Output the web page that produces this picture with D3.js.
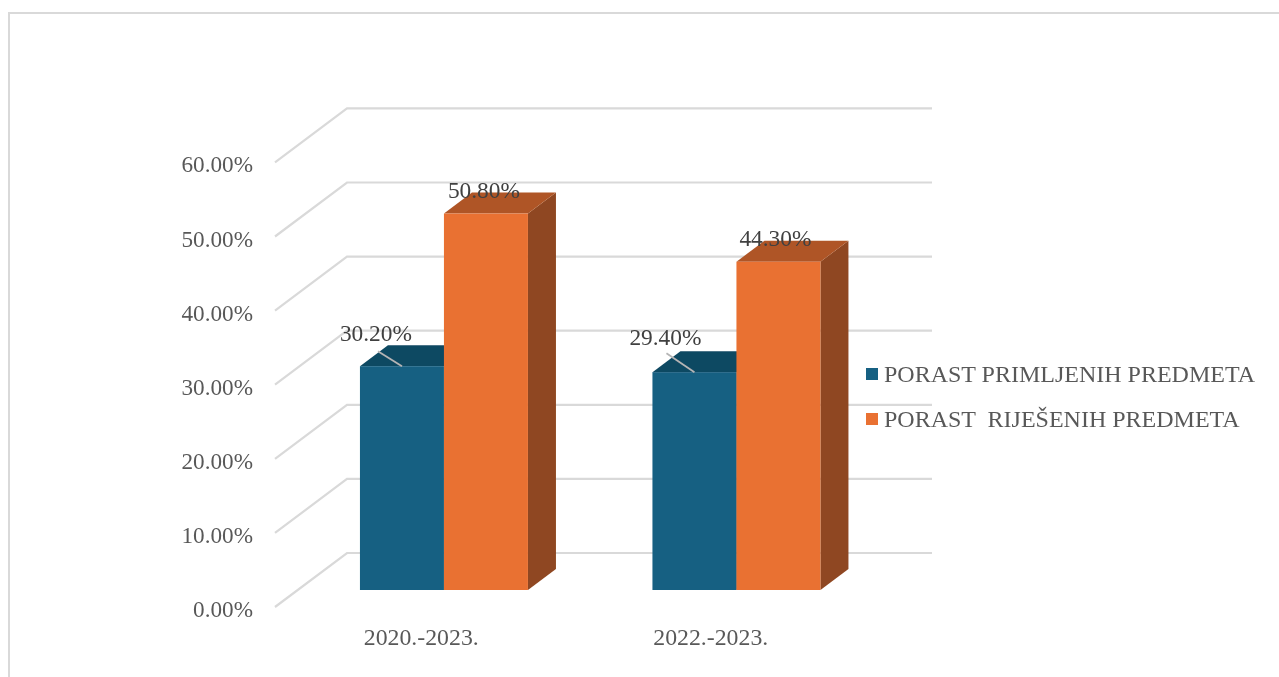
<!DOCTYPE html>
<html>
<head>
<meta charset="utf-8">
<script src="https://cdn.jsdelivr.net/npm/d3@7"></script>
<style>
html, body { margin: 0; padding: 0; background: #fff; }
svg { display: block; }
text { font-family: "Liberation Serif", serif; }
</style>
</head>
<body>
<div id="chart"></div>
<script>
// data
var categories = ["2020.-2023.", "2022.-2023."];
var seriesNames = ["PORAST PRIMLJENIH PREDMETA", "PORAST  RIJEŠENIH PREDMETA"];
var primljeni = [30.2, 29.4];
var rijeseni = [50.8, 44.3];
var yTicks = [0, 10, 20, 30, 40, 50, 60];

var colors = ["#156082", "#E97132"];
var topColors = ["#104862", "#AF5526"];
var sideColors = ["#0D3A4E", "#8F4620"];

var w = 1279, h = 677;

var svg = d3.select("#chart").append("svg")
	.attr("width", w)
	.attr("height", h);

// slight softening, the reference is a scaled up bitmap
var defs = svg.append("defs");
defs.append("filter").attr("id", "soft")
	.attr("filterUnits", "userSpaceOnUse")
	.attr("x", 0).attr("y", 0).attr("width", w).attr("height", h)
	.append("feGaussianBlur").attr("stdDeviation", 0.6);

var root = svg.append("g").attr("filter", "url(#soft)");

// outer frame, only top and left are visible
root.append("path")
	.attr("d", "M9," + h + "V13H" + w)
	.attr("fill", "none")
	.attr("stroke", "#d9d9d9")
	.attr("stroke-width", 2);

// 3d box of the plot
var floorDx = 72, floorDy = 54;     // front edge to back wall
var frontLeft = 275, frontRight = 860;
var barDepthX = 28, barDepthY = 21;
var barShiftX = 22.7, barShiftY = 17; // front face of bars from front edge

// y on the back wall
var y = d3.scaleLinear().domain([0, 60]).range([553, 108.4]);

var x0 = d3.scaleBand().domain(categories).range([frontLeft, frontRight]);
var x1 = d3.scaleBand().domain([0, 1]).range([0, 168]);
var barsOffset = (x0.bandwidth() - 168) / 2 + barShiftX;

// gridlines
root.append("g").selectAll("path")
	.data(yTicks)
	.enter()
	.append("path")
	.attr("d", function(d) {
		return "M" + frontLeft + "," + (y(d) + floorDy) +
			"L" + (frontLeft + floorDx) + "," + y(d) +
			"H" + (frontRight + floorDx);
	})
	.attr("fill", "none")
	.attr("stroke", "#d9d9d9")
	.attr("stroke-width", 2.2);

// y labels
root.append("g").selectAll("text")
	.data(yTicks)
	.enter()
	.append("text")
	.attr("x", 253)
	.attr("y", function(d) { return y(d) + floorDy + 10; })
	.attr("text-anchor", "end")
	.attr("font-size", 23.2)
	.attr("fill", "#595959")
	.text(function(d) { return d3.format(".2f")(d) + "%"; });

// x labels
var xLabelShift = [0, -3];
root.append("g").selectAll("text")
	.data(categories)
	.enter()
	.append("text")
	.attr("x", function(d, i) { return x0(d) + x0.bandwidth() / 2 + xLabelShift[i]; })
	.attr("y", 645)
	.attr("text-anchor", "middle")
	.attr("font-size", 23.8)
	.attr("fill", "#595959")
	.text(function(d) { return d; });

// bars, blue first so the orange one covers its side
var series = [primljeni, rijeseni];
var base = y(0) + floorDy - barShiftY;
var perUnit = y(0) - y(1);

function barTop(v) { return base - v * perUnit; }
function barLeft(c, s) { return x0(c) + barsOffset + x1(s); }

series.forEach(function(values, s) {
	var g = root.append("g").attr("class", "series-" + s);
	var bw = x1.bandwidth();

	g.selectAll("path.side")
		.data(values)
		.enter()
		.append("path")
		.attr("class", "side")
		.attr("fill", sideColors[s])
		.attr("d", function(d, i) {
			var r = barLeft(categories[i], s) + bw, t = barTop(d);
			return "M" + r + "," + t +
				"l" + barDepthX + "," + (-barDepthY) +
				"V" + (base - barDepthY) +
				"L" + r + "," + base + "Z";
		});

	g.selectAll("path.top")
		.data(values)
		.enter()
		.append("path")
		.attr("class", "top")
		.attr("fill", topColors[s])
		.attr("d", function(d, i) {
			var l = barLeft(categories[i], s), t = barTop(d);
			return "M" + l + "," + t +
				"l" + barDepthX + "," + (-barDepthY) +
				"h" + bw +
				"l" + (-barDepthX) + "," + barDepthY + "Z";
		});

	g.selectAll("rect")
		.data(values)
		.enter()
		.append("rect")
		.attr("fill", colors[s])
		.attr("x", function(d, i) { return barLeft(categories[i], s); })
		.attr("y", function(d) { return barTop(d); })
		.attr("width", bw)
		.attr("height", function(d) { return base - barTop(d); });
});

// leader lines on the blue bars
var leaderStartDx = [18, 14];
var leaderStartDy = [-15, -19];
root.append("g").selectAll("line")
	.data(primljeni)
	.enter()
	.append("line")
	.attr("x1", function(d, i) { return barLeft(categories[i], 0) + leaderStartDx[i]; })
	.attr("y1", function(d, i) { return barTop(d) + leaderStartDy[i]; })
	.attr("x2", function(d, i) { return barLeft(categories[i], 0) + 42; })
	.attr("y2", function(d) { return barTop(d); })
	.attr("stroke", "#b5b5b5")
	.attr("stroke-width", 1.8);

// data labels
var labelDx = [[16, 13], [40, 39]];
var labelDy = [[-25, -27], [-16, -16]];

series.forEach(function(values, s) {
	root.append("g").selectAll("text")
		.data(values)
		.enter()
		.append("text")
		.attr("x", function(d, i) { return barLeft(categories[i], s) + labelDx[s][i]; })
		.attr("y", function(d, i) { return barTop(d) + labelDy[s][i]; })
		.attr("text-anchor", "middle")
		.attr("font-size", 23.4)
		.attr("fill", "#404040")
		.text(function(d) { return d3.format(".2f")(d) + "%"; });
});

// legend
var legendY = d3.scalePoint().domain(seriesNames).range([374, 419]);
var legend = root.append("g").selectAll("g")
	.data(seriesNames)
	.enter()
	.append("g")
	.attr("transform", function(d) { return "translate(866," + legendY(d) + ")"; });

legend.append("rect")
	.attr("y", -6)
	.attr("width", 12)
	.attr("height", 12)
	.attr("fill", function(d, i) { return colors[i]; });

legend.append("text")
	.attr("x", 18)
	.attr("y", 8)
	.attr("font-size", 24)
	.attr("fill", "#595959")
	.style("white-space", "pre")
	.text(function(d) { return d; });
</script>
</body>
</html>
